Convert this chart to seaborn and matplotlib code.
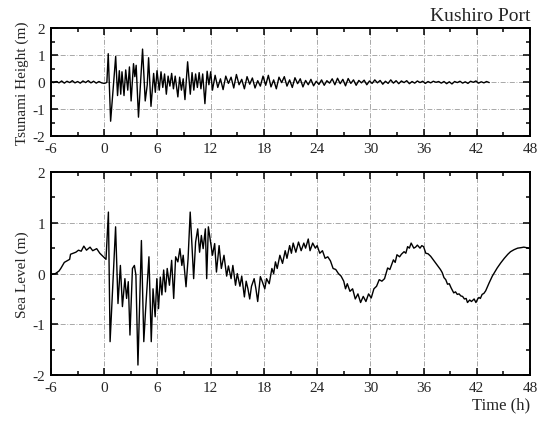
import numpy as np
import pandas as pd
import matplotlib
matplotlib.use("Agg")
import matplotlib.pyplot as plt
from matplotlib.ticker import MultipleLocator
import seaborn as sns

# ---------------------------------------------------------------
# Kushiro Port record: readings (time in hours, value in metres)
# ---------------------------------------------------------------

# Tsunami height (tide removed), before arrival
tsunami_pre = [(-6.0, 0.0), (-5.7, -0.02), (-5.4, 0.02), (-5.1, -0.03), (-4.8, 0.04),
               (-4.5, -0.04), (-4.2, 0.03), (-3.9, -0.02), (-3.6, 0.05), (-3.3, -0.03),
               (-3.0, 0.02), (-2.7, -0.04), (-2.4, 0.04), (-2.1, -0.02), (-1.8, 0.05),
               (-1.5, -0.03), (-1.2, 0.03), (-0.9, -0.04), (-0.6, 0.02), (-0.3, -0.03),
               (0.0, -0.05), (0.2, -0.03)]

# Tsunami height, main wave train
tsunami_main = [(0.3, 0.0), (0.45, 1.05), (0.72, -1.45), (1.29, 0.95), (1.5, -0.5),
                (1.7, 0.42), (1.86, -0.45), (2.0, 0.38), (2.23, -0.5), (2.42, 0.45),
                (2.65, -0.3), (2.84, 0.56), (3.03, -0.7), (3.3, 0.68), (3.45, 0.2),
                (3.6, 0.62), (3.86, -1.3), (4.32, 1.22), (4.62, -0.7), (4.85, -0.1),
                (5.0, 0.9), (5.27, -0.9), (5.57, 0.32), (5.76, -0.38), (5.95, 0.42),
                (6.2, -0.3), (6.4, 0.38), (6.6, -0.2), (6.8, 0.3), (7.0, -0.45),
                (7.2, 0.22), (7.4, -0.15), (7.6, 0.32), (7.8, -0.25), (8.0, 0.22),
                (8.3, -0.55), (8.5, 0.18), (8.7, -0.3), (8.9, 0.12), (9.1, -0.65),
                (9.4, 0.75), (9.7, -0.45), (9.9, 0.35), (10.1, -0.3), (10.3, 0.3),
                (10.5, -0.2), (10.7, 0.35), (10.9, -0.25), (11.1, 0.3), (11.35, -0.8),
                (11.6, 0.4), (11.8, -0.1), (12.0, 0.38), (12.2, -0.3)]

# Tsunami height, decaying coda read every 0.3 h from 12.5 h
coda_start, coda_step = 12.5, 0.3
tsunami_coda = [0.25, -0.2, 0.12, -0.28, 0.22, -0.05, 0.18, -0.22, 0.28, -0.1,
                0.1, -0.25, 0.2, -0.08, 0.15, -0.22, 0.05, -0.15, 0.22, -0.12,
                0.25, -0.18, 0.08, -0.25, 0.18, -0.02, 0.2, -0.15, 0.08, -0.2,
                0.16, -0.06, 0.12, -0.18, 0.06, -0.1, 0.1, -0.14, 0.03, -0.09,
                0.08, -0.12, 0.05, -0.04, 0.12, -0.1, 0.14, -0.06, 0.1, -0.14,
                0.13, -0.05, 0.08, -0.12, 0.06, -0.03, 0.07, -0.1, 0.04, -0.05,
                0.08, -0.03, 0.06, -0.08, 0.03, -0.05, 0.08, -0.04, 0.05, -0.06,
                0.04, -0.02, 0.05, -0.06, 0.02, -0.04, 0.04, -0.02, 0.03, -0.05,
                0.02, -0.03, 0.03, -0.01, 0.02, -0.04, 0.02, -0.06, 0.01, -0.07,
                0.02, -0.02, 0.03, -0.04, 0.01, -0.05, 0.03, -0.01, 0.04, -0.04,
                0.01, -0.03, 0.02, -0.02]

# Observed sea level, before arrival
sea_pre = [(-6.0, -0.02), (-5.5, 0.0), (-5.1, 0.05), (-4.9, 0.1), (-4.5, 0.22),
           (-4.2, 0.25), (-3.9, 0.28), (-3.8, 0.38), (-3.5, 0.4), (-3.2, 0.42),
           (-2.9, 0.46), (-2.6, 0.44), (-2.3, 0.54), (-2.0, 0.46), (-1.6, 0.52),
           (-1.3, 0.45), (-0.85, 0.49), (-0.5, 0.4), (-0.1, 0.33), (0.2, 0.28)]

# Observed sea level, main wave train
sea_main = [(0.47, 1.21), (0.66, -1.34), (1.28, 0.92), (1.55, -0.59), (1.82, 0.16),
            (2.05, -0.65), (2.33, -0.1), (2.52, -0.49), (2.71, -0.16), (2.9, -1.21),
            (3.18, 0.1), (3.4, 0.16), (3.57, -0.03), (3.8, -1.8), (4.19, 0.65),
            (4.46, -1.34), (4.65, -0.75), (5.04, 0.33), (5.3, -1.34), (5.5, -0.3),
            (5.74, -0.85), (5.93, -0.1), (6.12, -0.69), (6.32, -0.07), (6.5, -0.42),
            (6.7, 0.07), (6.9, -0.36), (7.1, 0.1), (7.35, -0.23), (7.6, 0.26),
            (7.83, -0.49), (8.05, 0.33), (8.3, 0.23), (8.53, 0.49), (8.75, 0.16),
            (8.9, 0.36), (9.22, -0.26), (9.45, 0.29), (9.69, 1.21), (9.85, 0.69),
            (10.08, -0.1), (10.3, 0.62), (10.54, 0.88), (10.75, 0.42), (10.95, 0.75),
            (11.15, 0.49), (11.4, 0.88), (11.55, -0.1), (11.74, 0.92), (12.0, 0.6),
            (12.2, 0.36), (12.45, 0.59), (12.65, 0.03), (12.95, 0.55), (13.2, 0.1),
            (13.5, 0.36), (13.8, -0.05), (14.0, 0.15), (14.3, -0.1), (14.5, 0.16),
            (14.8, -0.23), (15.0, 0.0), (15.3, -0.25), (15.5, -0.05), (15.8, -0.46),
            (16.0, -0.15), (16.2, -0.3), (16.4, -0.5), (16.6, -0.25), (16.9, -0.1),
            (17.1, -0.3), (17.3, -0.55), (17.6, -0.06), (17.8, -0.15), (18.1, -0.3),
            (18.3, -0.1), (18.6, -0.2), (18.9, 0.1)]

# Observed sea level, tidal swing with residual oscillation
sea_tail = [(19.1, 0.0), (19.3, 0.23), (19.5, 0.1), (19.8, 0.36), (20.1, 0.2),
            (20.4, 0.45), (20.6, 0.3), (20.9, 0.55), (21.1, 0.4), (21.3, 0.6),
            (21.6, 0.42), (21.9, 0.62), (22.2, 0.45), (22.5, 0.6), (22.7, 0.5),
            (23.0, 0.68), (23.2, 0.45), (23.5, 0.6), (23.8, 0.5), (24.0, 0.55),
            (24.3, 0.4), (24.6, 0.45), (24.9, 0.3), (25.2, 0.33), (25.5, 0.25),
            (25.8, 0.1), (26.1, 0.08), (26.4, 0.0), (26.7, -0.05), (27.0, -0.15),
            (27.2, -0.3), (27.4, -0.2), (27.7, -0.35), (28.0, -0.3), (28.3, -0.5),
            (28.6, -0.4), (28.9, -0.57), (29.2, -0.45), (29.5, -0.55), (29.8, -0.4),
            (30.1, -0.48), (30.4, -0.3), (30.7, -0.25), (31.0, -0.12), (31.3, -0.15),
            (31.6, -0.1), (31.95, 0.11), (32.2, 0.08), (32.6, 0.27), (32.8, 0.22),
            (33.0, 0.37), (33.3, 0.33), (33.5, 0.38), (33.8, 0.43), (34.0, 0.4),
            (34.2, 0.53), (34.4, 0.5), (34.6, 0.6), (34.9, 0.5), (35.1, 0.52),
            (35.3, 0.56), (35.6, 0.5), (35.8, 0.55), (36.0, 0.53), (36.25, 0.4),
            (36.5, 0.39), (36.8, 0.34), (37.1, 0.27), (37.4, 0.2), (37.7, 0.13),
            (37.9, 0.08), (38.1, 0.02), (38.3, -0.08), (38.5, -0.12), (38.7, -0.21),
            (38.9, -0.2), (39.1, -0.28), (39.4, -0.38), (39.6, -0.36), (39.8, -0.41),
            (40.0, -0.4), (40.2, -0.44), (40.4, -0.45), (40.6, -0.5), (40.8, -0.49),
            (40.95, -0.57), (41.2, -0.52), (41.4, -0.55), (41.7, -0.5), (41.9, -0.57),
            (42.1, -0.5), (42.25, -0.47), (42.4, -0.49), (42.6, -0.41), (42.8, -0.39),
            (43.0, -0.34), (43.4, -0.18), (43.75, -0.05), (44.3, 0.11), (44.7, 0.21),
            (45.1, 0.3), (45.5, 0.38), (45.8, 0.43), (46.2, 0.47), (46.6, 0.5),
            (47.0, 0.51), (47.3, 0.52), (47.6, 0.51), (48.0, 0.49)]

x_ticks = [-6, 0, 6, 12, 18, 24, 30, 36, 42, 48]
y_ticks = [-2, -1, 0, 1, 2]

# ---------------------------------------------------------------
coda_times = [round(coda_start + i * coda_step, 2) for i in range(len(tsunami_coda))]
tsunami = pd.DataFrame(tsunami_pre + tsunami_main + list(zip(coda_times, tsunami_coda)),
                       columns=["time", "height"])
sea = pd.DataFrame(sea_pre + sea_main + sea_tail, columns=["time", "level"])

sns.set_theme(style="ticks")
plt.rcParams["font.family"] = ["Liberation Serif", "DejaVu Serif"]
plt.rcParams["axes.unicode_minus"] = False

fig = plt.figure(figsize=(5.37, 4.27), dpi=100)
ax1 = fig.add_axes([0.095, 0.679, 0.892, 0.253])
ax2 = fig.add_axes([0.095, 0.119, 0.892, 0.476])

sns.lineplot(data=tsunami, x="time", y="height", ax=ax1, color="black",
             linewidth=1.0, estimator=None, sort=False)
sns.lineplot(data=sea, x="time", y="level", ax=ax2, color="black",
             linewidth=1.0, estimator=None, sort=False)


def style_axes(ax, ylabel):
    ax.set_xlim(-6, 48)
    ax.set_ylim(-2, 2)
    ax.set_xticks(x_ticks)
    ax.set_yticks(y_ticks)
    ax.xaxis.set_minor_locator(MultipleLocator(3))
    ax.yaxis.set_minor_locator(MultipleLocator(0.5))
    ax.tick_params(which="both", direction="in", top=True, right=True,
                   width=1.1, color="black", labelsize=11, pad=4)
    ax.tick_params(which="major", length=5)
    ax.tick_params(which="minor", length=3)
    ax.grid(True, which="major", color="#9a9a9a", linewidth=0.6,
            linestyle=(0, (6, 2, 1, 2)))
    ax.set_axisbelow(True)
    for spine in ax.spines.values():
        spine.set_linewidth(1.4)
        spine.set_color("black")
    ax.set_ylabel(ylabel, fontsize=11, labelpad=3)
    ax.set_xlabel("")


style_axes(ax1, "Tsunami Height (m)")
style_axes(ax2, "Sea Level (m)")

ax1.set_title("Kushiro Port", loc="right", fontsize=14, pad=6)
ax2.set_xlabel("Time (h)", loc="right", fontsize=12, labelpad=2)

fig.savefig("out.png", dpi=100, facecolor="white")
